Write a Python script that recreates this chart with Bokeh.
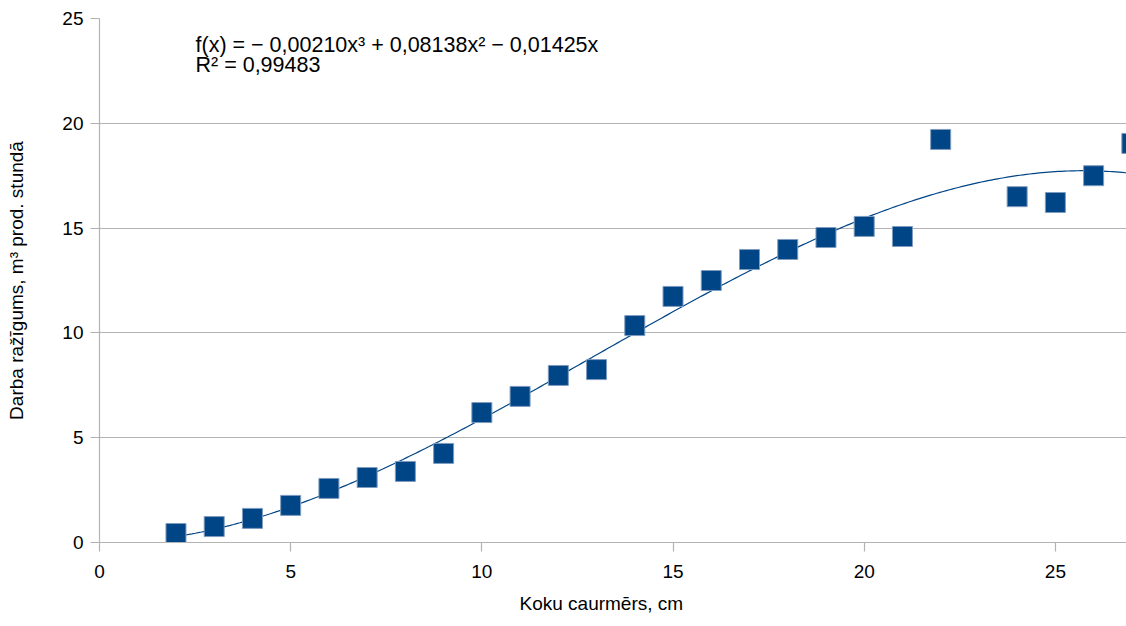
import numpy as np
from bokeh.plotting import figure
from bokeh.models import Range1d, Label, FixedTicker, ColumnDataSource, Title
from bokeh.embed import file_html
from bokeh.resources import INLINE

diameter = [2, 3, 4, 5, 6, 7, 8, 9, 10, 11, 12, 13, 14, 15, 16, 17, 18, 19, 20, 21, 22, 24, 25, 26, 27]
productivity = [0.43, 0.76, 1.15, 1.77, 2.58, 3.1, 3.39, 4.25, 6.2, 6.97, 7.97, 8.25, 10.35, 11.74,
                12.5, 13.5, 13.98, 14.55, 15.08, 14.6, 19.23, 16.5, 16.22, 17.5, 19.04]
trend_coeffs = [-0.00210, 0.08138, -0.01425, 0.0]  # cubic trend line shown in chart
x_ticks = [0, 5, 10, 15, 20, 25]
y_ticks = [0, 5, 10, 15, 20, 25]

FONT = "Liberation Sans"
BLUE = "#004586"
GRID = "#b3b3b3"

p = figure(width=1126, height=626, output_backend="svg", toolbar_location=None,
           x_range=Range1d(0, 26.86), y_range=Range1d(0, 25),
           min_border_left=99, min_border_right=0, min_border_top=18, min_border_bottom=84)
p.outline_line_color = None
p.background_fill_color = "white"
p.border_fill_color = "white"

xs = np.linspace(min(diameter), max(diameter), 300)
p.line(xs, np.polyval(trend_coeffs, xs), line_color=BLUE, line_width=1.2)
src = ColumnDataSource(dict(x=diameter, y=productivity))
p.scatter("x", "y", source=src, marker="square", size=20, fill_color=BLUE,
          line_color="#7f9cc0", line_width=1)

p.xgrid.grid_line_color = None
p.ygrid.grid_line_color = GRID
p.ygrid.grid_line_width = 1.2

for ax, ticks in ((p.xaxis[0], x_ticks), (p.yaxis[0], y_ticks)):
    ax.ticker = FixedTicker(ticks=ticks)
    ax.axis_line_color = GRID
    ax.axis_line_width = 1.2
    ax.major_tick_line_color = GRID
    ax.major_tick_line_width = 1.2
    ax.major_tick_in = 0
    ax.major_tick_out = 9
    ax.minor_tick_line_color = None
    ax.major_label_text_font = FONT
    ax.major_label_text_font_size = "19px"
    ax.major_label_text_color = "black"

p.xaxis.major_label_standoff = 13
p.yaxis.major_label_standoff = 7

p.yaxis.axis_label = "Darba ražīgums, m³ prod. stundā"
p.yaxis.axis_label_text_font = FONT
p.yaxis.axis_label_text_font_size = "19px"
p.yaxis.axis_label_text_font_style = "normal"
p.yaxis.axis_label_text_color = "black"
p.yaxis.axis_label_standoff = 32

p.add_layout(Title(text="Koku caurmērs, cm", align="left", offset=420, standoff=20,
                   text_font=FONT, text_font_size="19px", text_font_style="normal",
                   text_line_height=1.0, text_color="black"), "below")

p.add_layout(Label(x=96, y=498, x_units="screen", y_units="screen",
                   text="f(x) = − 0,00210x³ + 0,08138x² − 0,01425x", text_baseline="alphabetic",
                   text_font=FONT, text_font_size="21.5px", text_color="black"))
p.add_layout(Label(x=96, y=478, x_units="screen", y_units="screen",
                   text="R² = 0,99483", text_baseline="alphabetic",
                   text_font=FONT, text_font_size="21.5px", text_color="black"))

open("out.html", "w").write(file_html(p, INLINE))
